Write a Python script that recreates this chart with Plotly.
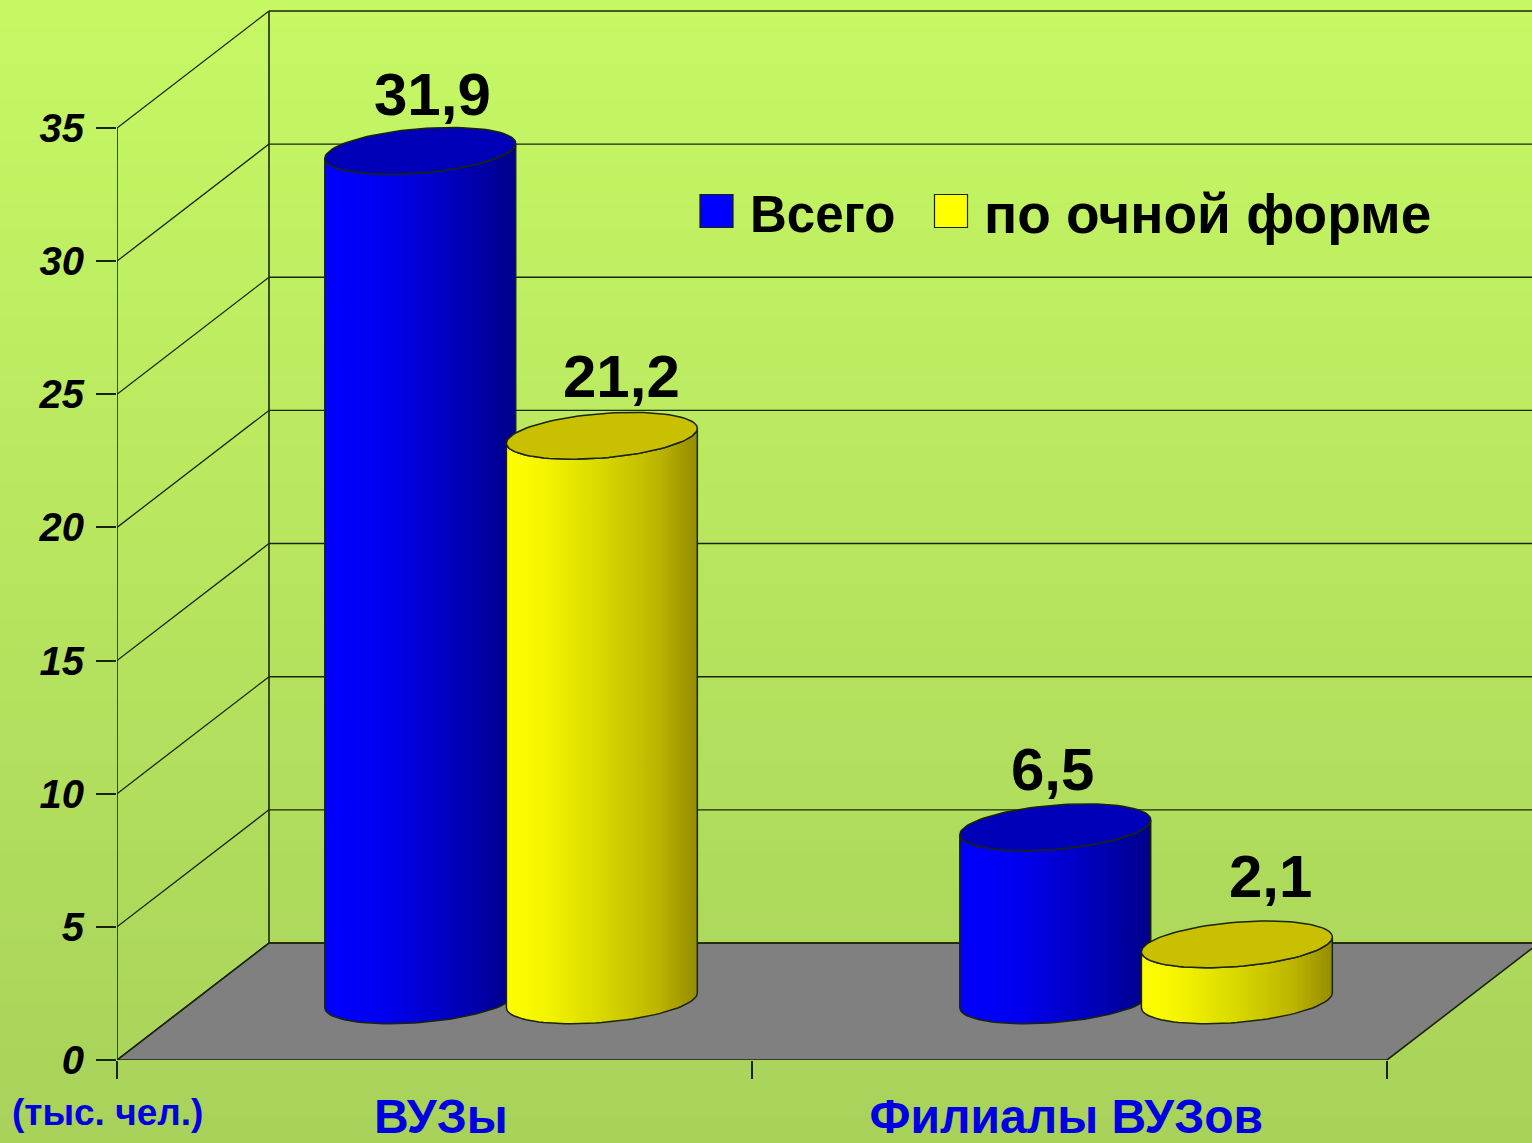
import math
import plotly.graph_objects as go

# ---- data ----
CATEGORIES = ["ВУЗы", "Филиалы ВУЗов"]
SERIES = ["Всего", "по очной форме"]
VSEGO = [31.9, 6.5]
OCHNAYA = [21.2, 2.1]
Y_TICKS = [0, 5, 10, 15, 20, 25, 30, 35]
UNIT = "(тыс. чел.)"

# ---- geometry of the oblique "3D" frame (axis units) ----
W, H = 1532, 1143
ML, MB = 117, 83
PX_X = 635.0      # pixels per category
PX_Y = 26.63      # pixels per value unit
XMAX = (W - ML) / PX_X
YMAX = (H - MB) / PX_Y
DX = 152 / PX_X   # depth vector
DY = 117 / PX_Y
CENTRE = 0.4985   # cluster centre inside a category
OFFSET = 0.143    # bar offset from the category centre
DEPTH_C = 0.51    # depth position of the cylinders' axis
RAD_X = 0.1425    # cylinder radius along x
RAD_D = 0.2       # cylinder radius along depth
FONT = "Liberation Sans"
LINE = "#1c2408"

fig = go.Figure()
noh = dict(hoverinfo="skip", showlegend=False)


def path(xs, ys, **kw):
    fig.add_trace(go.Scatter(x=xs, y=ys, mode="lines", cliponaxis=False, **noh, **kw))


# floor
path([0, len(CATEGORIES), len(CATEGORIES) + DX, DX, 0], [0, 0, DY, DY, 0],
     fill="toself", fillcolor="#808080", line=dict(color=LINE, width=1.6))

# value axis, side wall and back wall
path([0, 0], [0, max(Y_TICKS)], line=dict(color=LINE, width=1.6))
path([DX, DX], [DY, max(Y_TICKS) + DY], line=dict(color=LINE, width=1.6))
for v in Y_TICKS:
    path([0, DX], [v, v + DY], line=dict(color=LINE, width=1.3))
    fig.add_trace(go.Scatter(x=[DX, XMAX], y=[v + DY, v + DY], mode="lines",
                             line=dict(color=LINE, width=1.4), **noh))


def arc(cx, base, t0, t1, n=48):
    xs, ys = [], []
    for i in range(n + 1):
        t = math.radians(t0 + (t1 - t0) * i / n)
        xs.append(cx + DEPTH_C * DX + RAD_X * math.cos(t) + RAD_D * DX * math.sin(t))
        ys.append(base + DEPTH_C * DY + RAD_D * DY * math.sin(t))
    return xs, ys


TAN = math.degrees(math.atan2(RAD_D * DX * PX_X, RAD_X * PX_X))

STYLES = [
    dict(cap="#0000b8",
         scale=[[0, "#0000ff"], [0.3, "#0000f0"], [0.6, "#0000c8"], [1, "#00008a"]]),
    dict(cap="#c8c000",
         scale=[[0, "#ffff00"], [0.2, "#f4f400"], [0.5, "#d8d800"], [0.8, "#bcb400"], [1, "#948c00"]]),
]


def cylinder(cx, value, style):
    bx, by = arc(cx, 0, 180 + TAN, 360 + TAN)
    tx, ty = arc(cx, value, 180 + TAN, 360 + TAN)
    path(bx + tx[::-1] + bx[:1], by + ty[::-1] + by[:1],
         fill="toself", line=dict(color=LINE, width=1.5),
         fillgradient=dict(type="horizontal", colorscale=style["scale"]))
    ex, ey = arc(cx, value, 0, 360, n=96)
    path(ex, ey, fill="toself", fillcolor=style["cap"], line=dict(color=LINE, width=1.5))


LABEL_SHIFT = [[(12, 56), (20, 59)], [(-3, 58), (34, 68)]]
annotations = []
for c in range(len(CATEGORIES)):
    for s, vals in enumerate([VSEGO, OCHNAYA]):
        cx = c + CENTRE + (-OFFSET if s == 0 else OFFSET)
        cylinder(cx, vals[c], STYLES[s])
        sx, sy = LABEL_SHIFT[c][s]
        annotations.append(dict(
            x=cx + DEPTH_C * DX, y=vals[c] + DEPTH_C * DY, xref="x", yref="y",
            text=f"{vals[c]:.1f}".replace(".", ","), showarrow=False,
            xshift=sx, yshift=sy, yanchor="middle",
            font=dict(family=FONT, size=60, color="black", weight="bold")))

# legend
LEG = [dict(mx=716.5, tx=748, color="#0000ff", size=51),
       dict(mx=951, tx=982, color="#ffff00", size=55)]
LEG_Y = (H - MB - 211) / PX_Y
for name, l in zip(SERIES, LEG):
    fig.add_trace(go.Scatter(
        x=[(l["mx"] - ML) / PX_X], y=[LEG_Y], mode="markers", **noh,
        marker=dict(symbol="square", size=33, color=l["color"], line=dict(color=LINE, width=1.2))))
    annotations.append(dict(
        x=(l["tx"] - ML) / PX_X, y=LEG_Y, xref="x", yref="y", text=name, showarrow=False,
        xanchor="left", yanchor="middle", yshift=-3,
        font=dict(family=FONT, size=l["size"], color="black", weight="bold")))

annotations.append(dict(
    x=-107 / (W - ML), y=0, xref="paper", yref="paper", text=UNIT,
    showarrow=False, xanchor="left", yanchor="top", yshift=-30,
    font=dict(family=FONT, size=37, color="#0000e0", weight="bold")))

# background gradient
TOP, BOT = (198, 248, 100), (168, 210, 90)
N = 90
shapes = []
for i in range(N):
    f = i / (N - 1)
    col = "rgb(%d,%d,%d)" % tuple(round(a + (b - a) * f) for a, b in zip(TOP, BOT))
    shapes.append(dict(type="rect", xref="paper", yref="paper", layer="below", line_width=0,
                       fillcolor=col, x0=-ML / (W - ML) - 0.01, x1=1.01,
                       y1=1 - i / N * H / (H - MB), y0=1 - (i + 1.05) / N * H / (H - MB)))

fig.update_layout(
    width=W, height=H, margin=dict(l=ML, r=0, t=0, b=MB, pad=0),
    paper_bgcolor="#b8e55e", plot_bgcolor="rgba(0,0,0,0)",
    showlegend=False, shapes=shapes, annotations=annotations,
    xaxis=dict(
        range=[0, XMAX], showgrid=False, zeroline=False, showline=False, automargin=False,
        tickmode="array", tickvals=[0.51, 1.495], ticktext=CATEGORIES, ticks="",
        ticklabelstandoff=24,
        tickfont=dict(family=FONT, size=48, color="#0000e0", weight="bold"),
        minor=dict(tickmode="array", tickvals=[0, 1, 2], ticks="outside", ticklen=18,
                   tickwidth=1.6, tickcolor=LINE, showgrid=False),
    ),
    yaxis=dict(
        range=[0, YMAX], showgrid=False, zeroline=False, showline=False, automargin=False,
        tickmode="array", tickvals=Y_TICKS, ticks="outside", ticklen=20,
        tickwidth=1.6, tickcolor=LINE, ticklabelstandoff=4,
        tickfont=dict(family=FONT, size=40, color="black", weight="bold", style="italic"),
    ),
)

fig.write_html("out.html", config={"displayModeBar": False},
               post_script="document.body.style.margin='0';document.body.style.overflow='hidden';")
